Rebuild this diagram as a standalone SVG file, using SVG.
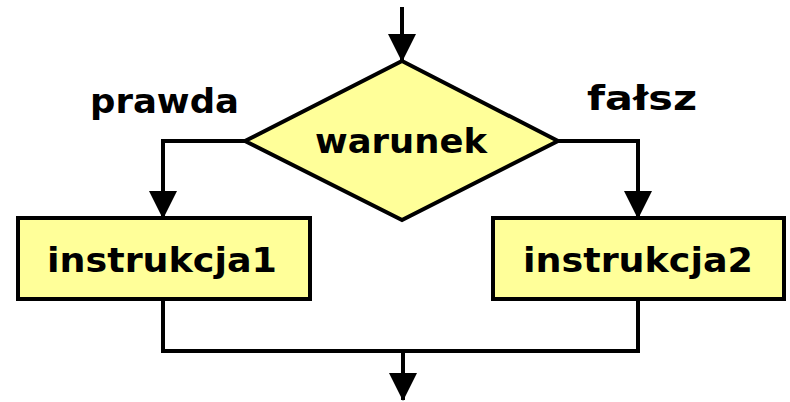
<svg xmlns="http://www.w3.org/2000/svg" width="790" height="402" viewBox="0 0 790 402">
<style>
.shape{fill:#ffff99;stroke:#000;stroke-width:4;stroke-linejoin:miter}
.conn{fill:none;stroke:#000;stroke-width:4}
.t{font-family:"DejaVu Sans","Liberation Sans",sans-serif;font-weight:bold;font-size:33px;fill:#000}
</style>
<defs>
<marker id="ah" markerUnits="userSpaceOnUse" markerWidth="28" markerHeight="28" viewBox="0 0 28 28" refX="27" refY="14" orient="auto">
<path d="M0,0 L28,14 L0,28 Z" fill="#000"/>
</marker>
</defs>
<rect width="790" height="402" fill="#fff"/>
<g id="connectors">
<line class="conn" x1="402" y1="7" x2="402" y2="61" marker-end="url(#ah)"/>
<polyline class="conn" points="245,141 163,141 163,218" marker-end="url(#ah)"/>
<polyline class="conn" points="558,141 638,141 638,218" marker-end="url(#ah)"/>
<polyline class="conn" points="163,299 163,351 638,351 638,299"/>
<line class="conn" x1="403" y1="351" x2="403" y2="400" marker-end="url(#ah)"/>
</g>
<g id="warunek">
<polygon class="shape" points="402,61 558,141 402,220 245,141"/>
<text class="t" x="401" y="153" text-anchor="middle" textLength="172" lengthAdjust="spacingAndGlyphs">warunek</text>
</g>
<g id="instrukcja1">
<rect class="shape" x="18" y="218" width="292" height="81"/>
<text class="t" x="162" y="272" text-anchor="middle" textLength="230" lengthAdjust="spacingAndGlyphs">instrukcja1</text>
</g>
<g id="instrukcja2">
<rect class="shape" x="493" y="218" width="291" height="81"/>
<text class="t" x="638" y="272" text-anchor="middle" textLength="230" lengthAdjust="spacingAndGlyphs">instrukcja2</text>
</g>
<g id="labels">
<text class="t" x="90" y="113" textLength="149" lengthAdjust="spacingAndGlyphs">prawda</text>
<text class="t" x="587" y="110" textLength="110" lengthAdjust="spacingAndGlyphs">fałsz</text>
</g>
</svg>
